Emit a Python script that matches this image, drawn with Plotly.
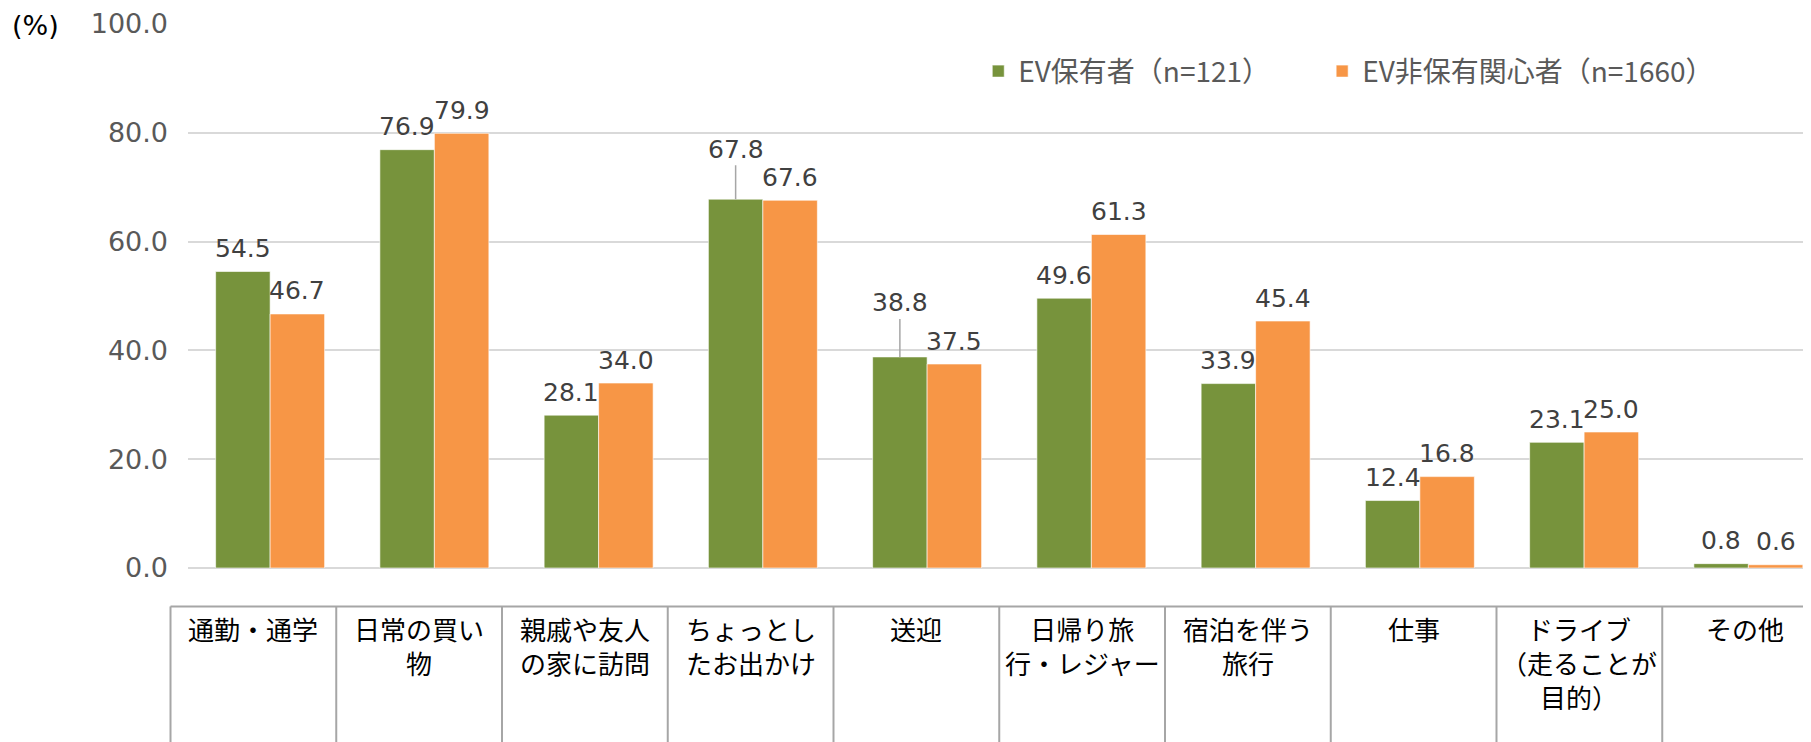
import plotly.graph_objects as go

# ---------------- data ----------------
category_labels = [
    "通勤・通学",
    "日常の買い<br>物",
    "親戚や友人<br>の家に訪問",
    "ちょっとし<br>たお出かけ",
    "送迎",
    "日帰り旅<br>行・レジャー",
    "宿泊を伴う<br>旅行",
    "仕事",
    "ドライブ<br>（走ることが<br>目的）",
    "その他",
]
ev_owner = [54.5, 76.9, 28.1, 67.8, 38.8, 49.6, 33.9, 12.4, 23.1, 0.8]
ev_interested = [46.7, 79.9, 34.0, 67.6, 37.5, 61.3, 45.4, 16.8, 25.0, 0.6]
series_names = ["EV保有者（n=121）", "EV非保有関心者（n=1660）"]
y_ticks = [0, 20, 40, 60, 80, 100]
y_unit_label = "(%)"

# ---------------- styling / geometry ----------------
OFF = 8  # default page margin of the html body
SCREEN_W, SCREEN_H = 1811, 742
W, H = SCREEN_W - OFF, SCREEN_H - OFF
PL, PR, PT, PB = 187.5 - OFF, SCREEN_W - OFF, 23.5 - OFF, 568.5 - OFF
CAT_PX = 164.3
BARGAP = 0.3366
GREEN = "#77933C"
ORANGE = "#F79646"
GRID = "#D9D9D9"
TABLE_LINE = "#A6A6A6"
NUM_FONT = "DejaVu Sans"
JP_FONT = "Noto Sans CJK JP"
TABLE_X0, CELL_W, TABLE_TOP = 170.0 - OFF, 165.8, 607.0 - OFF
LABEL_SHIFT = 23
LEADER = {3: 50, 4: 54}  # green labels lifted with leader lines
LEGEND_LEFT = [978 - OFF, 1322 - OFF]
LEGEND_Y = 71 - OFF


def px2x(px):
    return (px - PL) / (PR - PL)


def py2y(py):
    return (PB - py) / (PB - PT)


xs = list(range(len(category_labels)))
xmax = -0.5 + (PR - PL) / CAT_PX

fig = go.Figure()
fig.add_trace(go.Bar(x=xs, y=ev_owner, name=series_names[0], marker_color=GREEN,
                     marker_line=dict(width=1, color="rgba(255,255,255,0.6)"),
                     legend="legend"))
fig.add_trace(go.Bar(x=xs, y=ev_interested, name=series_names[1], marker_color=ORANGE,
                     marker_line=dict(width=1, color="rgba(255,255,255,0.6)"),
                     legend="legend2"))

half = (1 - BARGAP) / 4
annotations = []
for i in xs:
    for series, sign in ((ev_owner, -1), (ev_interested, 1)):
        v = series[i]
        xa = i + sign * half
        if sign == -1 and i in LEADER:
            annotations.append(dict(
                x=xa, y=v, xref="x", yref="y", text=f"{v:.1f}",
                showarrow=True, ax=0, ay=-LEADER[i], arrowhead=0,
                arrowwidth=1.5, arrowcolor=TABLE_LINE, standoff=0,
                font=dict(family=NUM_FONT, size=25, color="#404040"),
            ))
        else:
            annotations.append(dict(
                x=xa, y=v, xref="x", yref="y", text=f"{v:.1f}",
                showarrow=False, yanchor="middle", yshift=LABEL_SHIFT,
                font=dict(family=NUM_FONT, size=25, color="#404040"),
            ))

# category table text
for k, lab in enumerate(category_labels):
    annotations.append(dict(
        x=px2x(TABLE_X0 + (k + 0.5) * CELL_W), y=py2y(TABLE_TOP + 2),
        xref="paper", yref="paper", text=lab, showarrow=False,
        xanchor="center", yanchor="top", align="center",
        font=dict(family=JP_FONT, size=26, color="#000000"),
    ))

# unit label
annotations.append(dict(
    x=px2x(35 - OFF), y=py2y(25 - OFF), xref="paper", yref="paper", text=y_unit_label,
    showarrow=False, xanchor="center", yanchor="middle",
    font=dict(family=NUM_FONT, size=27, color="#000000"),
))

shapes = [dict(type="line", xref="paper", yref="paper",
               x0=px2x(TABLE_X0), x1=px2x(TABLE_X0 + len(category_labels) * CELL_W),
               y0=py2y(TABLE_TOP), y1=py2y(TABLE_TOP),
               line=dict(color=TABLE_LINE, width=2))]
for k in range(len(category_labels) + 1):
    xp = px2x(TABLE_X0 + k * CELL_W)
    shapes.append(dict(type="line", xref="paper", yref="paper",
                       x0=xp, x1=xp, y0=py2y(TABLE_TOP), y1=py2y(H + 5),
                       line=dict(color=TABLE_LINE, width=2)))

legend_style = dict(orientation="h", xanchor="left", yanchor="middle",
                    font=dict(family=JP_FONT, size=28, color="#595959"),
                    bgcolor="rgba(0,0,0,0)")

fig.update_layout(
    width=W, height=H,
    margin=dict(l=PL, r=W - PR, t=PT, b=H - PB, autoexpand=False),
    paper_bgcolor="white", plot_bgcolor="white",
    barmode="group", bargap=BARGAP, bargroupgap=0,
    showlegend=True,
    legend=dict(x=px2x(LEGEND_LEFT[0]), y=py2y(LEGEND_Y), **legend_style),
    legend2=dict(x=px2x(LEGEND_LEFT[1]), y=py2y(LEGEND_Y), **legend_style),
    xaxis=dict(range=[-0.5, xmax], showticklabels=False, showgrid=False,
               zeroline=False, showline=False, ticks=""),
    yaxis=dict(range=[0, 100], tickvals=y_ticks, tickformat=".1f",
               showgrid=True, gridcolor=GRID, gridwidth=1.5,
               zeroline=True, zerolinecolor=GRID, zerolinewidth=1.5,
               showline=False, ticks="", ticklabelstandoff=19,
               tickfont=dict(family=NUM_FONT, size=27, color="#595959")),
    annotations=annotations,
    shapes=shapes,
)

fig.write_html("out.html")
